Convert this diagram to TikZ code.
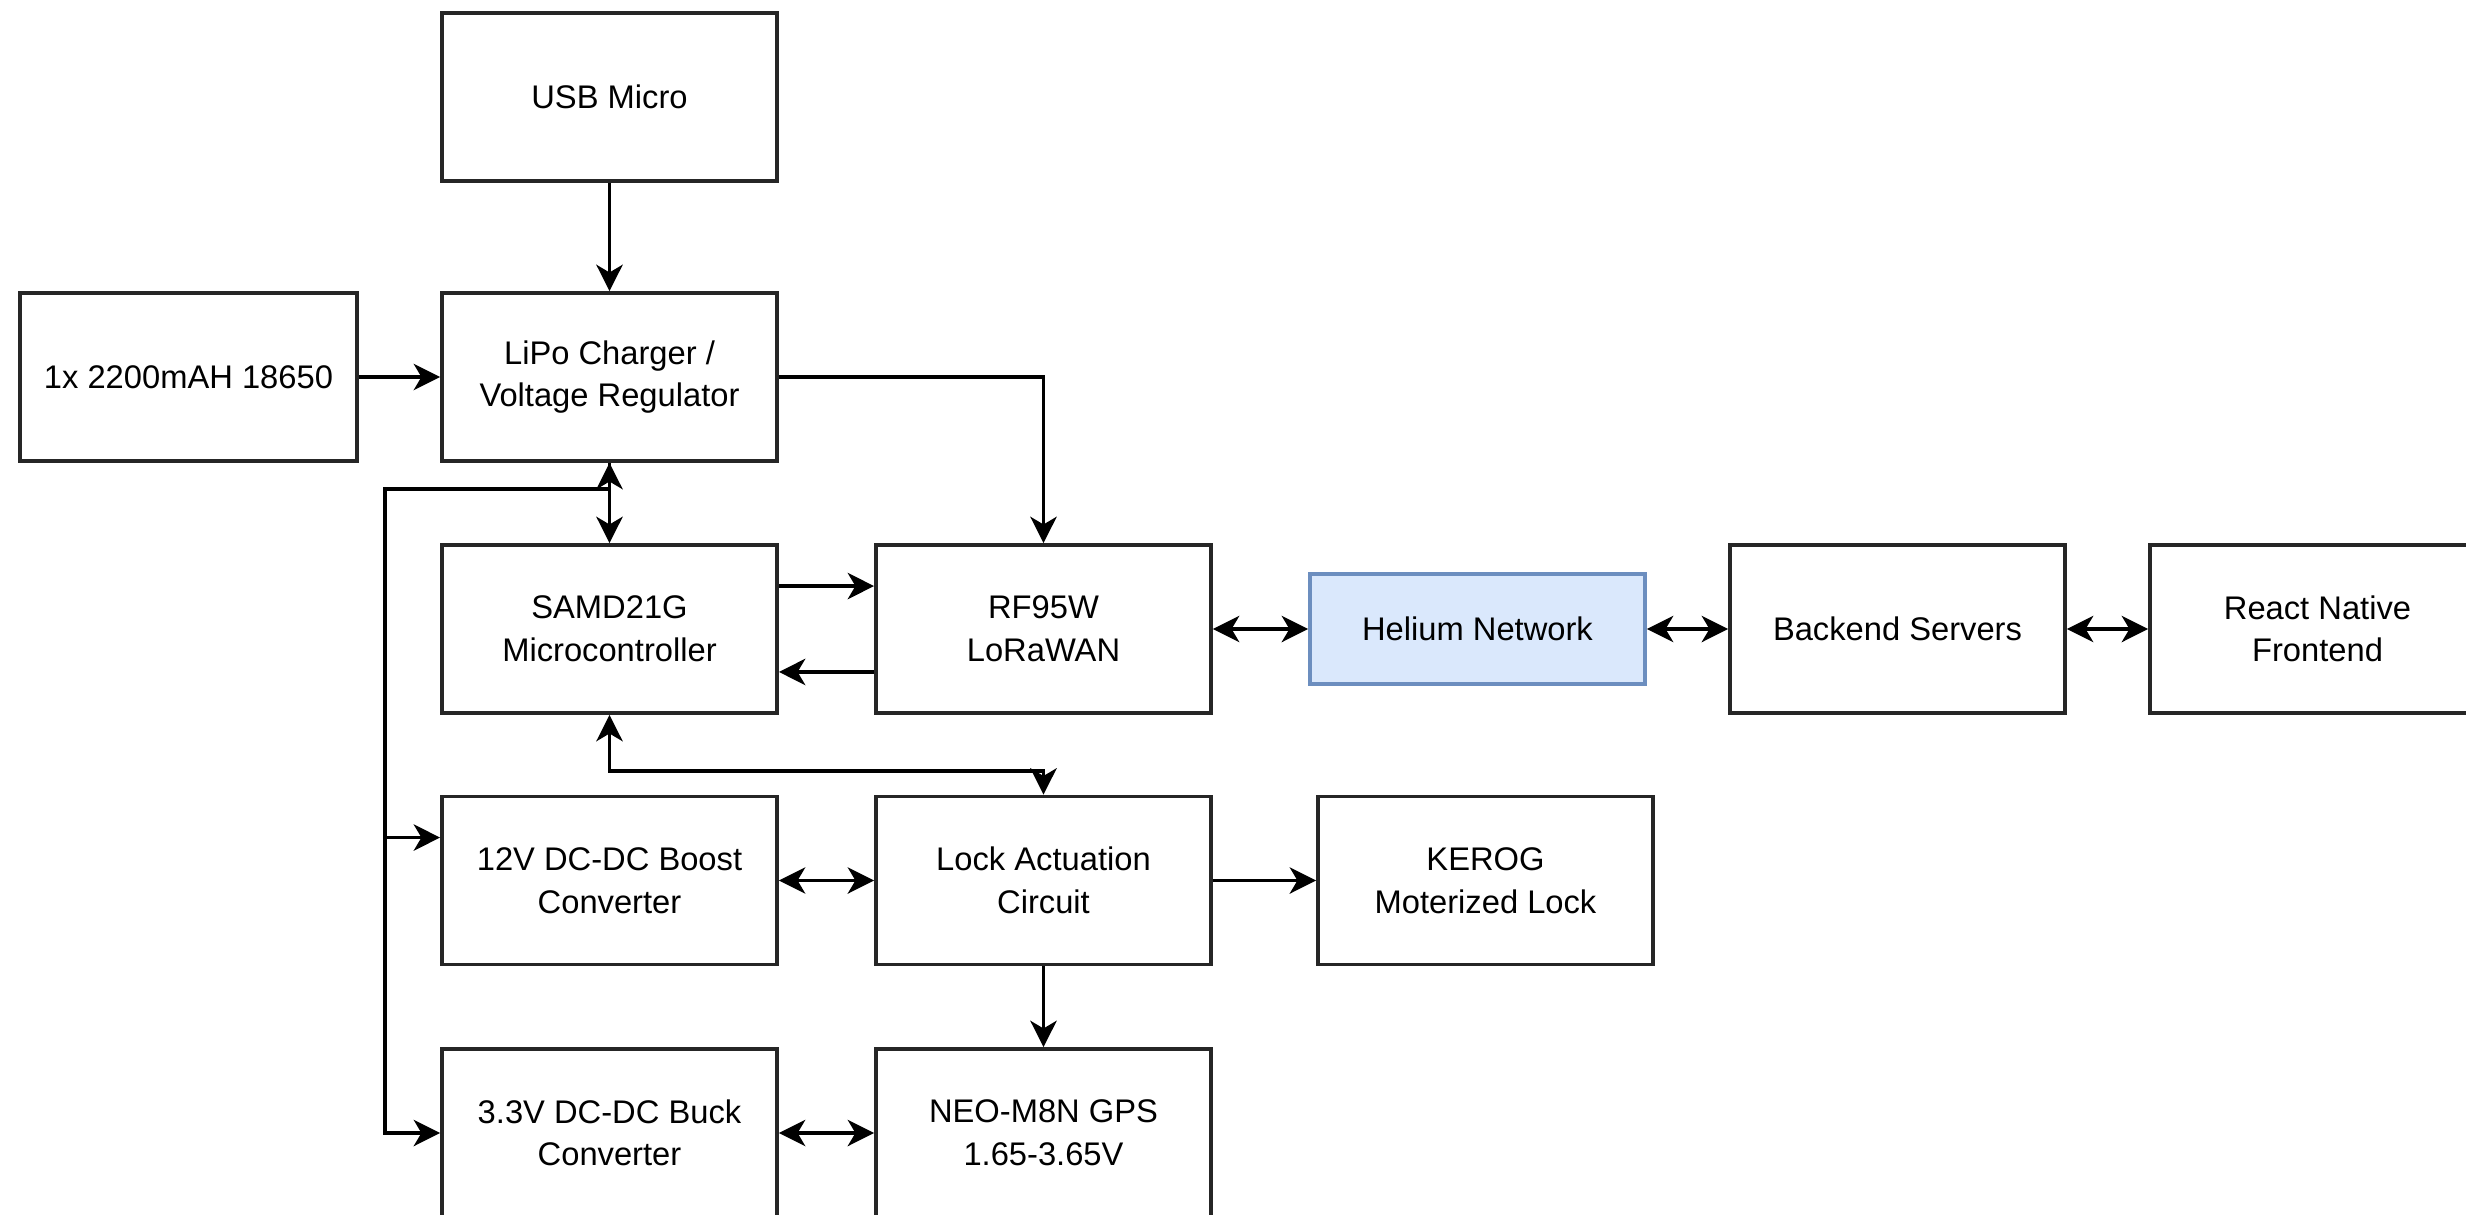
\documentclass[tikz,border=0pt]{standalone}
\usepackage{fontspec}
\setmainfont{Liberation Sans}
\usetikzlibrary{arrows.meta,calc}
\definecolor{helfill}{HTML}{DAE8FC}
\definecolor{helline}{HTML}{6C8EBF}
\begin{document}
\begin{tikzpicture}[x=0.01cm,y=-0.01cm,
  blk/.style={draw=black!85,line width=1.05pt,fill=white,minimum width=3.35cm,minimum height=1.68cm,inner sep=0pt,align=center,font=\fontsize{9.3}{12.1}\selectfont},
  helblk/.style={blk,draw=helline,fill=helfill,minimum height=1.10cm},
  con/.style={line width=0.9pt,-{Stealth[length=7.5pt,width=7.5pt,inset=2.2pt]}},
  bicon/.style={line width=0.9pt,{Stealth[length=7.5pt,width=7.5pt,inset=2.2pt]}-{Stealth[length=7.5pt,width=7.5pt,inset=2.2pt]}}]
\useasboundingbox (0,0) rectangle (2466,1215);
\clip (0,0) rectangle (2466,1215);
\fill[white] (0,0) rectangle (2466,1215);

\node[blk] (usb)   at (609.5,97)    {USB Micro};
\node[blk,minimum width=3.37cm] (batt) at (188.5,377) {1x 2200mAH 18650};
\node[blk] (lipo)  at (609.5,377)   {LiPo Charger /\\Voltage Regulator};
\node[blk] (samd)  at (609.5,629)   {SAMD21G\\Microcontroller};
\node[blk] (rf)    at (1043.5,629)  {RF95W\\LoRaWAN};
\node[helblk] (hel) at (1477.5,629) {Helium Network};
\node[blk] (back)  at (1897.5,629)  {Backend Servers};
\node[blk] (react) at (2317.5,629)  {React Native\\Frontend};
\node[blk] (boost) at (609.5,880.5) {12V DC-DC Boost\\Converter};
\node[blk] (lock)  at (1043.5,880.5){Lock Actuation\\Circuit};
\node[blk] (kerog) at (1485.5,880.5){KEROG\\Moterized Lock};
\node[blk] (buck)  at (609.5,1133)  {3.3V DC-DC Buck\\Converter};
\node[blk] (neo)   at (1043.5,1133) {NEO-M8N GPS\\1.65-3.65V};

\coordinate (bus) at (385,489);
\coordinate (sl) at (609.5,771);

\draw[con] (usb.south) -- (lipo.north);
\draw[con] (batt.east) -- (lipo.west);
\draw[con] (lipo.east) -| (rf.north);
\draw[bicon] (lipo.south) -- (samd.north);
\draw[con] (lipo.south) |- (bus) |- ($(boost.north west)!0.25!(boost.south west)$);
\draw[con] (bus) |- (buck.west);
\draw[con] ($(samd.north east)!0.25!(samd.south east)$) -- ($(rf.north west)!0.25!(rf.south west)$);
\draw[con] ($(rf.north west)!0.75!(rf.south west)$) -- ($(samd.north east)!0.75!(samd.south east)$);
\draw[bicon] (rf.east) -- (hel.west);
\draw[bicon] (hel.east) -- (back.west);
\draw[bicon] (back.east) -- (react.west);
\draw[bicon] (samd.south) -- (sl) -| (lock.north);
\draw[bicon] (boost.east) -- (lock.west);
\draw[con] (lock.east) -- (kerog.west);
\draw[con] (lock.south) -- (neo.north);
\draw[bicon] (buck.east) -- (neo.west);
\end{tikzpicture}
\end{document}
